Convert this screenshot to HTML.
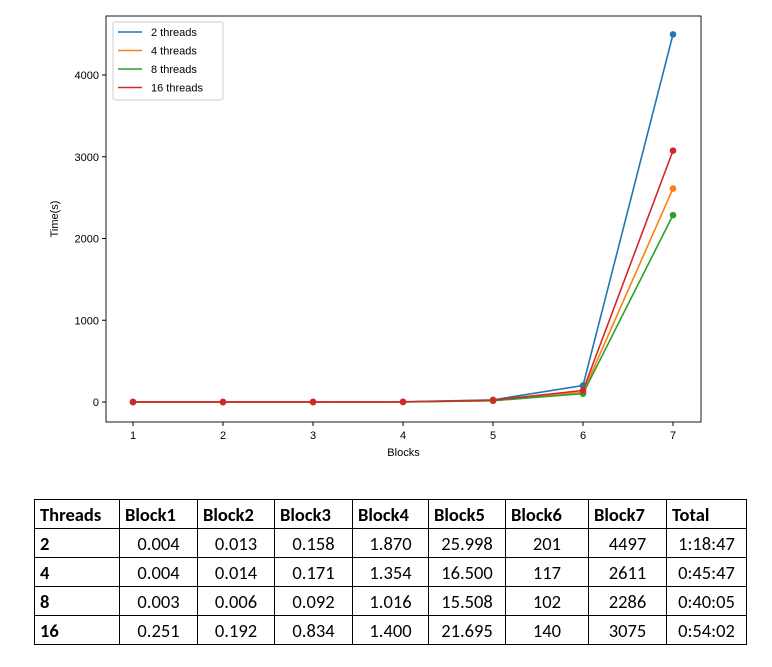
<!DOCTYPE html>
<html><head><meta charset="utf-8"><style>
body{margin:0;width:772px;height:667px;background:#fff;font-family:"Liberation Sans",sans-serif;position:relative;overflow:hidden}
svg{position:absolute;left:0;top:0}
table{position:absolute;left:34px;top:499px;border-collapse:collapse;table-layout:fixed;width:712px;font-family:Carlito,"Liberation Sans",sans-serif;font-size:18.5px;color:#000}
td{border:1px solid #000;height:28px;padding:0 5px;text-align:center;white-space:nowrap}
td:first-child{text-align:left;font-weight:bold}
tr:first-child td{font-weight:bold;text-align:left}
</style></head><body>
<svg id="chart" width="772" height="470"></svg>
<table>
<colgroup><col style="width:85px"><col style="width:78px"><col style="width:77px"><col style="width:78px"><col style="width:76px"><col style="width:77px"><col style="width:83px"><col style="width:78px"><col style="width:80px"></colgroup>
<tr><td>Threads</td><td>Block1</td><td>Block2</td><td>Block3</td><td>Block4</td><td>Block5</td><td>Block6</td><td>Block7</td><td>Total</td></tr>
<tr><td>2</td><td>0.004</td><td>0.013</td><td>0.158</td><td>1.870</td><td>25.998</td><td>201</td><td>4497</td><td>1:18:47</td></tr>
<tr><td>4</td><td>0.004</td><td>0.014</td><td>0.171</td><td>1.354</td><td>16.500</td><td>117</td><td>2611</td><td>0:45:47</td></tr>
<tr><td>8</td><td>0.003</td><td>0.006</td><td>0.092</td><td>1.016</td><td>15.508</td><td>102</td><td>2286</td><td>0:40:05</td></tr>
<tr><td>16</td><td>0.251</td><td>0.192</td><td>0.834</td><td>1.400</td><td>21.695</td><td>140</td><td>3075</td><td>0:54:02</td></tr>
</table>
<script>
const blocks=[1,2,3,4,5,6,7];
const seriesNames=["2 threads","4 threads","8 threads","16 threads"];
const t2=[0.004,0.013,0.158,1.870,25.998,201,4497];
const t4=[0.004,0.014,0.171,1.354,16.500,117,2611];
const t8=[0.003,0.006,0.092,1.016,15.508,102,2286];
const t16=[0.251,0.192,0.834,1.400,21.695,140,3075];
const yTicks=[0,1000,2000,3000,4000];
const colors=["#1f77b4","#ff7f0e","#2ca02c","#d62728"];
const series=[t2,t4,t8,t16];
const NS="http://www.w3.org/2000/svg";
const svg=document.getElementById('chart');
const L=106,R=701,T=16,B=422;
const X=v=>133+(v-1)*(673-133)/6;
const Y=v=>402-v*(402-75)/4000;
function el(n,a,p){const e=document.createElementNS(NS,n);for(const k in a)e.setAttribute(k,a[k]);(p||svg).appendChild(e);return e;}
const frame=el('rect',{x:L,y:T,width:R-L,height:B-T,fill:'none',stroke:'#000','stroke-width':0.9});


blocks.forEach(b=>{
 const tk=el('line',{x1:X(b),x2:X(b),y1:B,y2:B+4,stroke:'#000'});
 
 
 const t=el('text',{x:X(b),y:B+17,'text-anchor':'middle','font-size':11});t.textContent=b;
 
 
});
yTicks.forEach(v=>{
 const tk=el('line',{x1:L-4,x2:L,y1:Y(v),y2:Y(v),stroke:'#000'});
 
 
 const t=el('text',{x:L-7,y:Y(v)+4,'text-anchor':'end','font-size':11});t.textContent=v;
 
 
});
const xt=el('text',{x:(L+R)/2,y:456,'text-anchor':'middle','font-size':11});xt.textContent='Blocks';


const yt=el('text',{x:0,y:0,'text-anchor':'middle','font-size':11,transform:`translate(58,${(T+B)/2}) rotate(-90)`});yt.textContent='Time(s)';


series.forEach((s,i)=>{
 const g=el('g',{});
 
 
 const p=el('polyline',{points:s.map((v,j)=>X(blocks[j])+','+Y(v)).join(' '),fill:'none',stroke:colors[i],'stroke-width':1.6},g);
 
 
 s.forEach((v,j)=>{const c=el('circle',{cx:X(blocks[j]),cy:Y(v),r:3.3,fill:colors[i]},g);
  
  });
});
const lg=el('g',{});


el('rect',{x:113,y:22,width:110,height:78,rx:2,fill:'#fff',stroke:'#ccc'},lg);
seriesNames.forEach((n,i)=>{
 const y=32+i*18.5;
 const ln=el('line',{x1:118,x2:142,y1:y,y2:y,stroke:colors[i],'stroke-width':1.6},lg);
 
 
 const t=el('text',{x:151,y:y+4,'font-size':11},lg);t.textContent=n;
 
 
});
</script>
</body></html>
